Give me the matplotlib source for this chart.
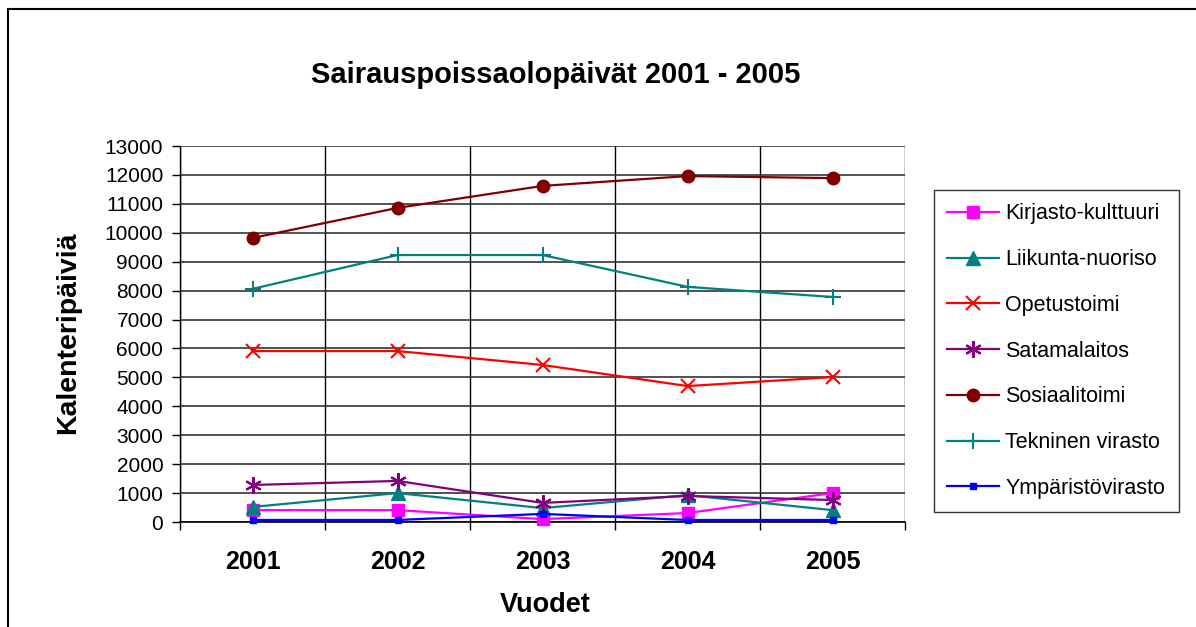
import matplotlib
matplotlib.use("Agg")
import matplotlib.pyplot as plt
from matplotlib.lines import Line2D

plt.rcParams['font.family'] = ['Liberation Sans', 'DejaVu Sans']

years = ["2001", "2002", "2003", "2004", "2005"]
kirjasto = [410, 410, 100, 310, 1000]
liikunta = [520, 1000, 480, 930, 410]
opetus = [5910, 5910, 5430, 4700, 5010]
satama = [1280, 1420, 660, 900, 760]
sosiaali = [9820, 10860, 11620, 11960, 11890]
tekninen = [8060, 9230, 9230, 8130, 7780]
ymparisto = [70, 70, 280, 70, 70]

series = [
    ("Kirjasto-kulttuuri", kirjasto, "#FF00FF", "s", 9, 0),
    ("Liikunta-nuoriso", liikunta, "#008080", "^", 10, 0),
    ("Opetustoimi", opetus, "#FF0000", "x", 10, 1.5),
    ("Satamalaitos", satama, "#800080", (6, 2, 0), 12, 1.5),
    ("Sosiaalitoimi", sosiaali, "#800000", "o", 9, 0),
    ("Tekninen virasto", tekninen, "#008080", "+", 12, 1.5),
    ("Ympäristövirasto", ymparisto, "#0000FF", "s", 4, 0),
]

fig = plt.figure(figsize=(11.96, 6.27), dpi=100)
ax = fig.add_axes([180/1196, 1-522/627, (905-180)/1196, (522-146)/627])

x = list(range(len(years)))
for name, vals, col, mk, ms, mew in series:
    kw = dict(color=col, lw=1.6, marker=mk, markersize=ms, label=name, clip_on=False, zorder=3)
    if mew:
        kw['markeredgewidth'] = mew
    ax.plot(x, vals, **kw)

ax.set_xlim(-0.5, len(years) - 0.5)
ax.set_ylim(0, 13000)
ax.set_yticks(range(0, 13001, 1000))
ax.set_yticklabels([str(v) for v in range(0, 13001, 1000)], fontsize=15)
ax.set_xticks(x)
ax.set_xticklabels(years, fontsize=18, fontweight='bold')
ax.set_xticks([i - 0.5 for i in range(len(years) + 1)], minor=True)
ax.tick_params(axis='x', which='major', length=0, pad=20)
ax.tick_params(axis='x', which='minor', length=6, direction='out', width=1)
ax.tick_params(axis='y', length=6, direction='out', width=1, pad=6)

ax.grid(axis='y', which='major', color='#333333', lw=1.2)
ax.grid(axis='x', which='minor', color='black', lw=1)
ax.set_axisbelow(True)
for s in ['top', 'right']:
    ax.spines[s].set_visible(False)
ax.spines['left'].set_linewidth(1)
ax.spines['bottom'].set_linewidth(1.2)

fig.text(556/1196, 1-75/627, "Sairauspoissaolopäivät 2001 - 2005", ha='center', va='center',
         fontsize=21, fontweight='bold')
fig.text(68/1196, 1-333/627, "Kalenteripäiviä", ha='center', va='center', rotation=90,
         fontsize=20.5, fontweight='bold')
fig.text(545/1196, 1-605/627, "Vuodet", ha='center', va='center', fontsize=19.5, fontweight='bold')

leg = fig.legend(loc='upper left', bbox_to_anchor=(934/1196, 1-190/627), fontsize=15.5,
                 frameon=True, fancybox=False, edgecolor='black', handlelength=2.4,
                 labelspacing=1.15, borderpad=0.62, handletextpad=0.3, borderaxespad=0)
leg.get_frame().set_linewidth(1)

# outer border
fig.add_artist(Line2D([8/1196, 8/1196], [0, 1-9/627], color='black', lw=1.5, transform=fig.transFigure))
fig.add_artist(Line2D([8/1196, 1], [1-9/627, 1-9/627], color='black', lw=1.5, transform=fig.transFigure))

fig.savefig("out.png", dpi=100)
